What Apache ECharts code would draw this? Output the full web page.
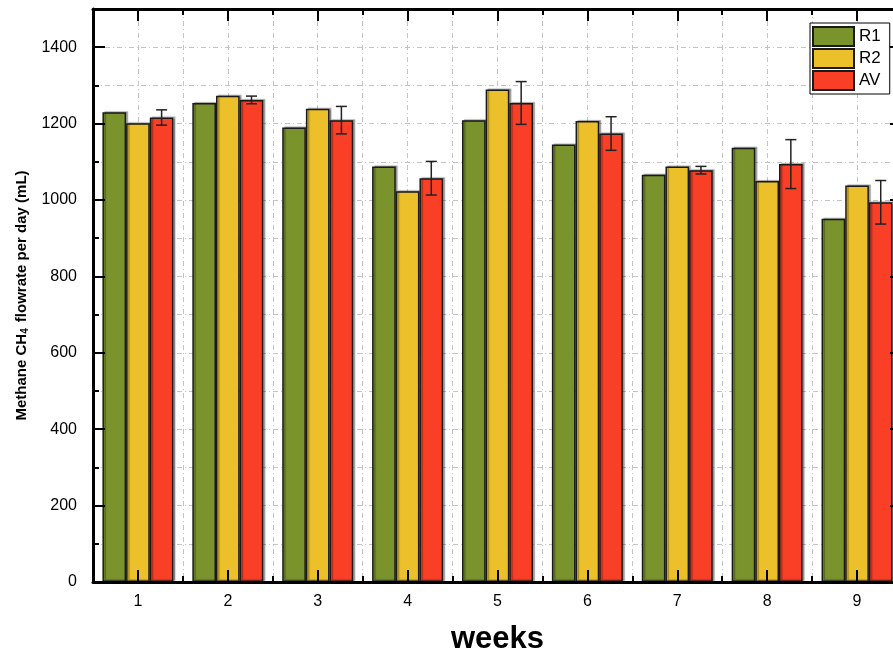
<!DOCTYPE html>
<html>
<head>
<meta charset="utf-8">
<script src="https://cdn.jsdelivr.net/npm/echarts@6/dist/echarts.min.js"></script>
<style>html,body{margin:0;padding:0;background:#fff;}#c{width:893px;height:655px;}</style>
</head>
<body>
<div id="c"></div>
<script>
const weeks = ['1','2','3','4','5','6','7','8','9'];
const R1 = [1230, 1254, 1190, 1088, 1209, 1145, 1066, 1137, 951];
const R2 = [1201, 1273, 1239, 1023, 1289, 1207, 1088, 1050, 1038];
const AV = [1216, 1262, 1209, 1057, 1254, 1174, 1078, 1094, 994];
const AV_ERR = [20, 10, 36, 44, 56, 44, 10, 64, 57];

const FONT = '"Liberation Sans", Arial, sans-serif';
const CAT_GAP = 0.21;
const gridStyle = {color: '#c4c4c4', width: 1, type: [5, 3, 1, 3]};
const barBorder = {borderColor: '#1a1a1a', borderWidth: 1.5, shadowColor: 'rgba(0,0,0,0.3)', shadowOffsetX: 2, shadowOffsetY: -1, shadowBlur: 1};
const tickLine = {color: '#000', width: 2};
const hidden = {axisLine: {show: false, onZero: false}, axisTick: {show: false}, axisLabel: {show: false}, splitLine: {show: false}};

const chart = echarts.init(document.getElementById('c'), null, {renderer: 'canvas'});

chart.setOption({
  animation: false,
  backgroundColor: '#fff',
  textStyle: {fontFamily: FONT},
  grid: {left: 93, top: 9, width: 809, height: 573, containLabel: false, outerBoundsMode: 'none'},
  legend: {
    data: ['R1', 'R2', 'AV'],
    orient: 'vertical',
    left: 810, top: 23,
    icon: 'rect',
    itemWidth: 41, itemHeight: 19, itemGap: 1,
    padding: [3, 9, 3, 2],
    borderColor: '#000', borderWidth: 1,
    backgroundColor: '#fff',
    textStyle: {fontFamily: FONT, fontSize: 17, color: '#000'}
  },
  xAxis: [
    {
      type: 'category', data: weeks, position: 'bottom', z: 10,
      boundaryGap: true,
      axisLine: {show: true, onZero: false, lineStyle: {color: '#000', width: 3}},
      axisTick: {show: true, inside: true, alignWithLabel: true, length: 12, lineStyle: tickLine},
      axisLabel: {fontFamily: FONT, fontSize: 16, color: '#000', margin: 12},
      splitLine: {show: false},
      name: 'weeks', nameLocation: 'middle', nameGap: 42,
      nameTextStyle: {fontFamily: FONT, fontSize: 31, fontWeight: 'bold', color: '#000'}
    },
    {
      type: 'value', position: 'top', min: 0, max: 9, interval: 1, z: 10,
      axisLine: {show: true, onZero: false, lineStyle: {color: '#000', width: 3}},
      axisTick: {show: true, inside: true, length: 6, lineStyle: tickLine},
      minorTick: {show: true, splitNumber: 2, length: 12, lineStyle: tickLine},
      axisLabel: {show: false},
      splitLine: {show: false}
    },
    Object.assign({}, hidden, {
      type: 'value', position: 'bottom', min: 0, max: 9, interval: 1, z: 10,
      axisTick: {show: true, inside: true, length: 6, lineStyle: tickLine}
    }),
    Object.assign({}, hidden, {
      type: 'value', position: 'bottom', min: 0, max: 9, interval: 1, z: 0,
      minorTick: {show: false, splitNumber: 2},
      splitLine: {show: true, lineStyle: gridStyle},
      minorSplitLine: {show: true, lineStyle: gridStyle}
    })
  ],
  yAxis: [
    {
      type: 'value', position: 'left', min: 0, max: 1500, interval: 200, z: 10,
      axisLine: {show: true, onZero: false, lineStyle: {color: '#000', width: 3}},
      axisTick: {show: true, inside: true, length: 12, lineStyle: tickLine},
      axisLabel: {fontFamily: FONT, fontSize: 16, color: '#000', margin: 16, showMaxLabel: false,
        formatter: v => (v % 200 === 0 ? String(v) : '')},
      splitLine: {show: false},
      name: '{a|Methane CH}{s|4}{a| flowrate per day (mL)}',
      nameLocation: 'middle', nameGap: 62, nameRotate: 90,
      nameTextStyle: {
        color: '#000',
        rich: {
          a: {fontFamily: FONT, fontSize: 15, fontWeight: 'bold', color: '#000'},
          s: {fontFamily: FONT, fontSize: 10, fontWeight: 'bold', color: '#000', padding: [8, 2, 0, 0]}
        }
      }
    },
    {
      type: 'value', position: 'right', min: 0, max: 1500, interval: 200, z: 10,
      axisLine: {show: true, onZero: false, lineStyle: {color: '#000', width: 3}},
      axisTick: {show: true, inside: true, length: 12, lineStyle: tickLine},
      axisLabel: {show: false},
      splitLine: {show: false}
    },
    Object.assign({}, hidden, {
      type: 'value', position: 'left', min: 0, max: 1500, interval: 100, z: 10,
      axisTick: {show: true, inside: true, length: 6, lineStyle: tickLine}
    }),
    Object.assign({}, hidden, {
      type: 'value', position: 'left', min: 0, max: 1500, interval: 100, z: 0,
      splitLine: {show: true, lineStyle: gridStyle}
    })
  ],
  series: [
    {name: 'R1', type: 'bar', xAxisIndex: 0, yAxisIndex: 0, data: R1, barGap: '0%', barCategoryGap: (CAT_GAP * 100) + '%',
      itemStyle: Object.assign({color: '#7a932c'}, barBorder)},
    {name: 'R2', type: 'bar', xAxisIndex: 0, yAxisIndex: 0, data: R2, barGap: '0%', barCategoryGap: (CAT_GAP * 100) + '%',
      itemStyle: Object.assign({color: '#ebc02a'}, barBorder)},
    {name: 'AV', type: 'bar', xAxisIndex: 0, yAxisIndex: 0, data: AV, barGap: '0%', barCategoryGap: (CAT_GAP * 100) + '%',
      itemStyle: Object.assign({color: '#f94027'}, barBorder)},
    {
      name: 'AV error', type: 'custom', xAxisIndex: 0, yAxisIndex: 0, z: 5,
      data: AV.map((v, i) => [i, v, AV_ERR[i]]),
      renderItem: function (params, api) {
        const i = api.value(0), v = api.value(1), e = api.value(2);
        const band = api.size([1, 0])[0];
        const bw = band * (1 - CAT_GAP) / 3;
        const x = api.coord([i, v])[0] + bw;
        const yt = api.coord([i, v + e])[1];
        const yb = api.coord([i, v - e])[1];
        const cap = 5.5;
        const st = {stroke: '#222', lineWidth: 1.5};
        return {
          type: 'group',
          children: [
            {type: 'line', shape: {x1: x, y1: yt, x2: x, y2: yb}, style: st},
            {type: 'line', shape: {x1: x - cap, y1: yt, x2: x + cap, y2: yt}, style: st},
            {type: 'line', shape: {x1: x - cap, y1: yb, x2: x + cap, y2: yb}, style: st}
          ]
        };
      }
    }
  ]
});
</script>
</body>
</html>
